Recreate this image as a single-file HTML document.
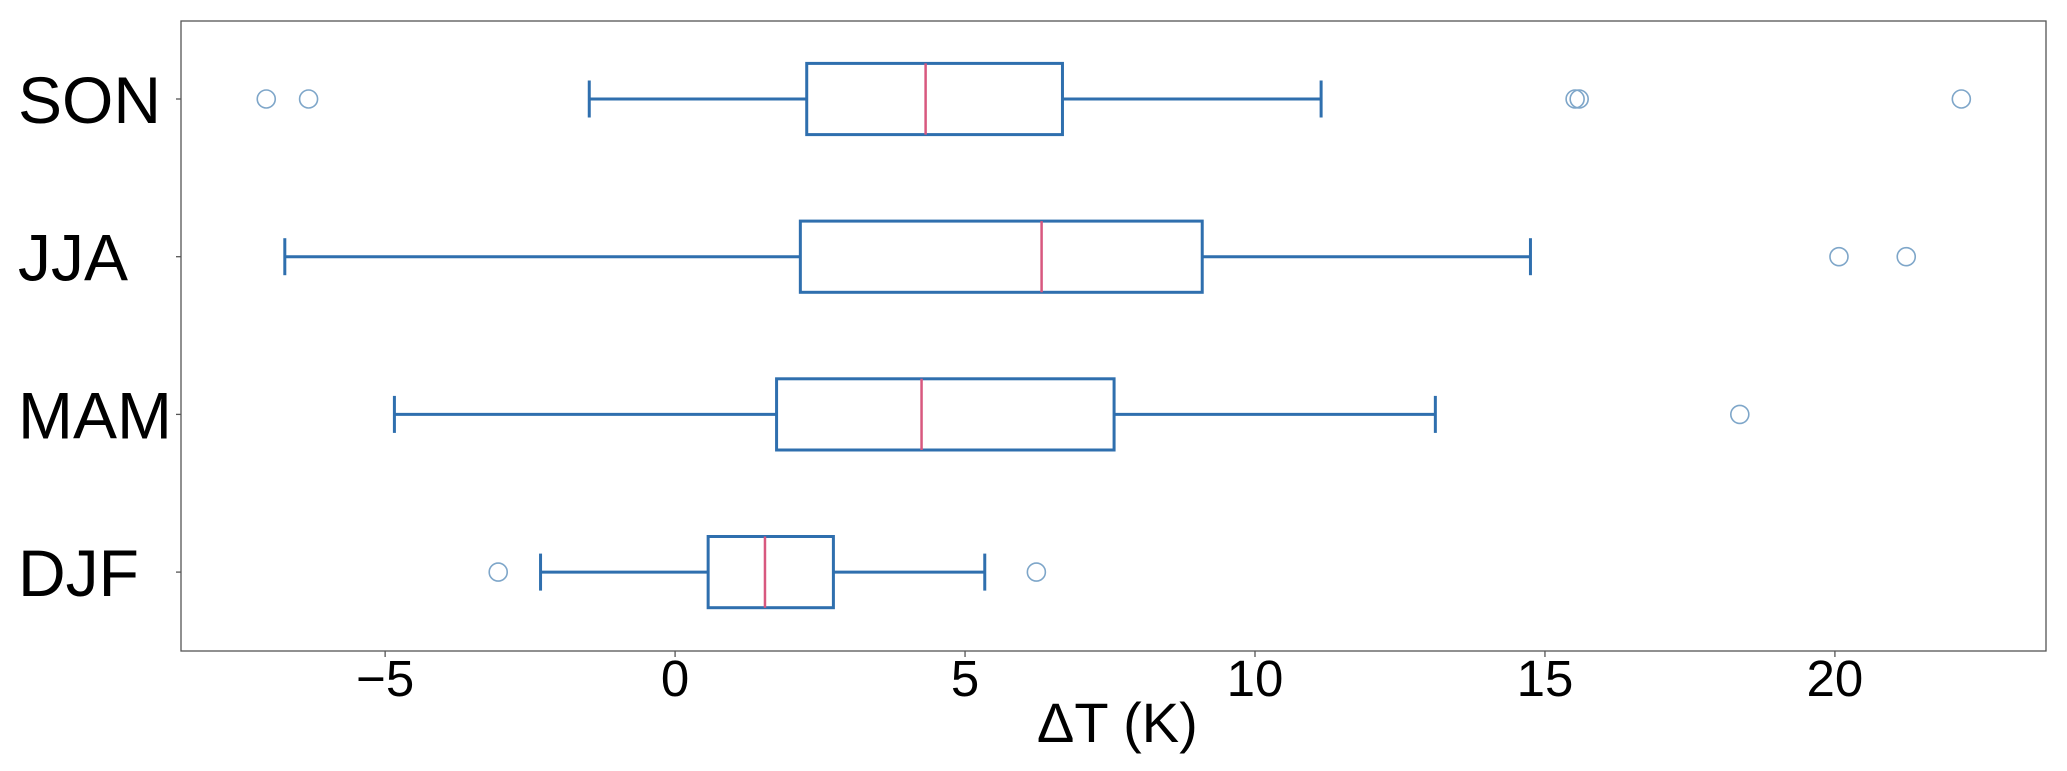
<!DOCTYPE html>
<html><head><meta charset="utf-8"><style>
body{margin:0;background:#fff;}
svg{display:block;font-family:"Liberation Sans","DejaVu Sans",sans-serif;}
</style></head><body>
<svg id="chart" width="2067" height="771"></svg>
<script>
const categories = ["SON","JJA","MAM","DJF"];
const whiskerLow = [-1.48, -6.73, -4.84, -2.32];
const q1 = [2.27, 2.16, 1.75, 0.57];
const median = [4.32, 6.32, 4.25, 1.55];
const q3 = [6.68, 9.09, 7.57, 2.73];
const whiskerHigh = [11.14, 14.75, 13.11, 5.34];
const outliers = [[-7.05, -6.32, 15.52, 15.59, 22.18], [20.07, 21.23], [18.36], [-3.05, 6.23]];
const xTicks = [-5, 0, 5, 10, 15, 20];
const xTickLabels = ["\u22125", "0", "5", "10", "15", "20"];

const NS = "http://www.w3.org/2000/svg";
const svg = document.getElementById("chart");
const L = 181, R = 2046, T = 21, B = 651;
const xMin = -8.52, xMax = 23.64;
const x = v => L + (v - xMin) / (xMax - xMin) * (R - L);
const yTop = 99, yStep = 157.7;
const y = i => yTop + i * yStep;
const HH = 35.6, CAP = 18.5;
const BLUE = "#2f6fae", PINK = "#d8587f", OUT = "#7ea6c9";

function mk(tag, attrs, parent) {
  const e = document.createElementNS(NS, tag);
  for (const k in attrs) e.setAttribute(k, attrs[k]);
  (parent || svg).appendChild(e);
  return e;
}

const frame = mk("rect", {x: L, y: T, width: R - L, height: B - T, fill: "none", stroke: "#555", "stroke-width": 1.3});



xTicks.forEach((t, i) => {
  const tk = mk("line", {x1: x(t), x2: x(t), y1: B, y2: B + 6, stroke: "#555", "stroke-width": 1.3});
  
  
  const lb = mk("text", {x: x(t), y: 696, "text-anchor": "middle", "font-size": 51, fill: "#000"});
  lb.textContent = xTickLabels[i];
  
  
});

const xl = mk("text", {x: x(7.85) - 13, y: 742, "text-anchor": "middle", "font-size": 56, fill: "#000"});
xl.textContent = "\u0394T (K)";



categories.forEach((c, i) => {
  const cy = y(i);
  const g = mk("g", {});
  
  
  mk("line", {x1: L - 5, x2: L, y1: cy, y2: cy, stroke: "#555", "stroke-width": 1.3}, g);
  const lb = mk("text", {x: 18, y: cy + 24, "font-size": 66, fill: "#000"}, svg);
  lb.textContent = c;
  
  
  const st = {stroke: BLUE, "stroke-width": 3, fill: "none"};
  mk("line", Object.assign({x1: x(whiskerLow[i]), x2: x(q1[i]), y1: cy, y2: cy}, st), g);
  mk("line", Object.assign({x1: x(q3[i]), x2: x(whiskerHigh[i]), y1: cy, y2: cy}, st), g);
  mk("line", Object.assign({x1: x(whiskerLow[i]), x2: x(whiskerLow[i]), y1: cy - CAP, y2: cy + CAP}, st), g);
  mk("line", Object.assign({x1: x(whiskerHigh[i]), x2: x(whiskerHigh[i]), y1: cy - CAP, y2: cy + CAP}, st), g);
  mk("rect", Object.assign({x: x(q1[i]), y: cy - HH, width: x(q3[i]) - x(q1[i]), height: 2 * HH}, st), g);
  mk("line", {x1: x(median[i]), x2: x(median[i]), y1: cy - HH, y2: cy + HH, stroke: PINK, "stroke-width": 2.5}, g);
  outliers[i].forEach(v => {
    const o = mk("ellipse", {cx: x(v), cy: cy, rx: 9, ry: 9, fill: "none", stroke: OUT, "stroke-width": 1.6}, g);
    
    
  });
});
</script>
</body></html>
